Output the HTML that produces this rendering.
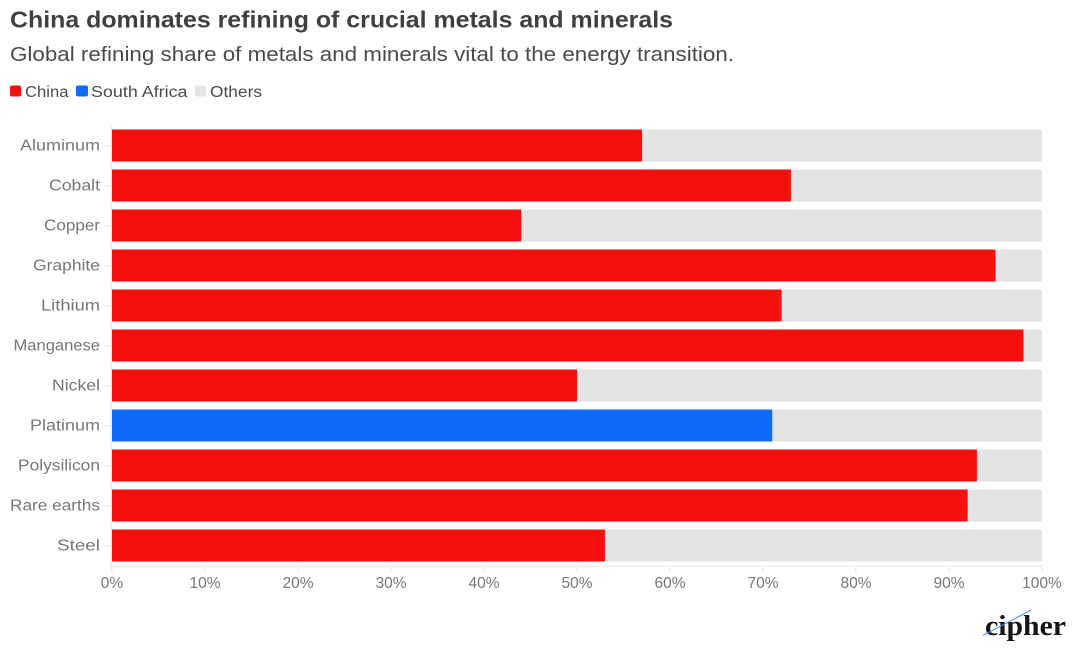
<!DOCTYPE html>
<html lang="en">
<head>
<meta charset="utf-8">
<title>China dominates refining of crucial metals and minerals</title>
<style>
html,body{margin:0;padding:0;background:#fff;width:1075px;height:653px;overflow:hidden}
svg{display:block}
text{font-family:"Liberation Sans",sans-serif}
</style>
</head>
<body>
<svg id="chart" width="1075" height="653" viewBox="0 0 1075 653" xmlns="http://www.w3.org/2000/svg">
  <text x="10" y="27.5" font-size="23.5" font-weight="700" fill="#3f3f3f" textLength="663" lengthAdjust="spacingAndGlyphs">China dominates refining of crucial metals and minerals</text>
  <text x="10" y="61" font-size="20.5" fill="#4a4a4a" textLength="724" lengthAdjust="spacingAndGlyphs">Global refining share of metals and minerals vital to the energy transition.</text>
  <g>
    <g>
      <rect x="10" y="85.5" width="11" height="11" rx="2" fill="#f61010"/>
      <text x="25" y="97" font-size="15.5" fill="#4a4a4a" textLength="43.5" lengthAdjust="spacingAndGlyphs">China</text>
    </g>
    <g>
      <rect x="76" y="85.5" width="12" height="11" rx="2" fill="#0f6cfb"/>
      <text x="91" y="97" font-size="15.5" fill="#4a4a4a" textLength="96.5" lengthAdjust="spacingAndGlyphs">South Africa</text>
    </g>
    <g>
      <rect x="195" y="85.5" width="11" height="11" rx="2" fill="#e4e4e4"/>
      <text x="210" y="97" font-size="15.5" fill="#4a4a4a" textLength="52" lengthAdjust="spacingAndGlyphs">Others</text>
    </g>
  </g>
  <g id="plot"></g>
  <g>
    <text x="985" y="635" font-size="29" font-weight="700" fill="#161616" textLength="81" lengthAdjust="spacingAndGlyphs" style="font-family:'Liberation Serif',serif">cipher</text>
    <line x1="983" y1="635.5" x2="1031" y2="610" stroke="#4a8cf5" stroke-width="1.1"/>
  </g>
</svg>
<script>
const categories = ["Aluminum","Cobalt","Copper","Graphite","Lithium","Manganese","Nickel","Platinum","Polysilicon","Rare earths","Steel"];
const leaderShare = [57,73,44,95,72,98,50,71,93,92,53];
const leaderCountry = ["China","China","China","China","China","China","China","South Africa","China","China","China"];
const tickValues = [0,10,20,30,40,50,60,70,80,90,100];
const labelWidths = [80,51,56,67,59,86.5,48,70,82,90,43];

const colors = {"China":"#f61010","South Africa":"#0f6cfb","Others":"#e4e4e4"};
const NS = "http://www.w3.org/2000/svg";
const plot = document.getElementById("plot");
const x = v => 112 + v / 100 * 930;
const y = i => 129.5 + i * 40;
const bandH = 32;

function make(tag, attrs, parent) {
  const el = document.createElementNS(NS, tag);
  for (const k in attrs) el.setAttribute(k, attrs[k]);
  parent.appendChild(el);
  return el;
}

const axisY = make("rect", {x:110.5, y:124, width:1.5, height:443, fill:"#eeeeee"}, plot);


const axisX = make("rect", {x:110.5, y:565.5, width:932.5, height:1.5, fill:"#eeeeee"}, plot);



categories.forEach((c, i) => {
  const slug = c.toLowerCase().replace(/\s+/g, "-");
  const others = make("rect", {x:x(leaderShare[i]), y:y(i), width:x(100) - x(leaderShare[i]), height:bandH, fill:colors["Others"]}, plot);
  
  
  const lead = make("rect", {x:x(0), y:y(i), width:x(leaderShare[i]) - x(0), height:bandH, fill:colors[leaderCountry[i]]}, plot);
  
  
  const tick = make("rect", {x:104, y:y(i) + 15.5, width:7, height:1.5, fill:"#eeeeee"}, plot);
  
  
  const label = make("text", {x:100, y:y(i) + 21, "text-anchor":"end", "font-size":15.5, fill:"#767676", textLength:labelWidths[i], lengthAdjust:"spacingAndGlyphs"}, plot);
  
  
  label.textContent = c;
});

tickValues.forEach(v => {
  const tick = make("rect", {x:x(v) - 1, y:566, width:1.5, height:7, fill:"#eeeeee"}, plot);
  
  
  const label = make("text", {x:x(v), y:588, "text-anchor":"middle", "font-size":15.5, fill:"#767676"}, plot);
  
  
  label.textContent = v + "%";
});
</script>
</body>
</html>
